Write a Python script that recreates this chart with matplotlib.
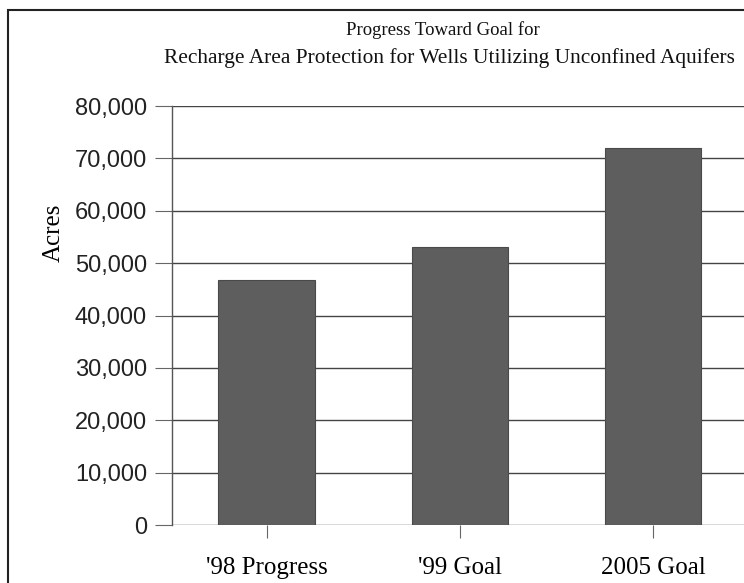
import matplotlib
matplotlib.use("Agg")
import matplotlib.pyplot as plt
from matplotlib.patches import Rectangle
from matplotlib.ticker import FuncFormatter

categories = ["'98 Progress", "'99 Goal", "2005 Goal"]
acres = [46700, 53000, 71900]
yticks = [0, 10000, 20000, 30000, 40000, 50000, 60000, 70000, 80000]
title_lines = ["Progress Toward Goal for",
               "Recharge Area Protection for Wells Utilizing Unconfined Aquifers"]

W, H = 744, 583
fig = plt.figure(figsize=(W / 100, H / 100), dpi=100)
fig.patch.set_facecolor("white")

ax = fig.add_axes([172 / W, 1 - 525 / H, (W - 172) / W, (525 - 106) / H])
ax.set_facecolor("white")

x = list(range(len(categories)))
ax.bar(x, acres, width=0.5, color="#5e5e5e", edgecolor="#4a4a4a", linewidth=0.8, zorder=3)

ax.set_xlim(-0.49, 2.47)
ax.set_ylim(0, 80000)
ax.set_yticks(yticks)
ax.yaxis.set_major_formatter(FuncFormatter(lambda v, p: f"{int(v):,}"))
ax.grid(axis="y", color="#444444", linewidth=1.0, zorder=0)
ax.set_axisbelow(True)

for s in ["top", "right", "bottom"]:
    ax.spines[s].set_visible(False)
ax.spines["left"].set_color("#555555")
ax.spines["left"].set_linewidth(1.0)

ax.set_xticks(x)
ax.set_xticklabels(categories, fontfamily="Liberation Serif", fontsize=18)
ax.tick_params(axis="x", length=9, width=0.8, color="#666666", pad=14)
ax.tick_params(axis="y", length=12, width=0.8, color="#666666", pad=6,
               labelsize=17)
for lbl in ax.get_yticklabels():
    lbl.set_fontfamily("Liberation Sans")
    lbl.set_color("#222222")

ax.set_ylabel("Acres", fontfamily="Liberation Serif", fontsize=18, labelpad=6)
ax.yaxis.set_label_coords(-0.187, 0.697)

fig.text(443 / W, 1 - 30 / H, title_lines[0], ha="center", va="center",
         fontfamily="Liberation Serif", fontsize=13.5, color="#111111")
fig.text(449 / W, 1 - 58 / H, title_lines[1], ha="center", va="center",
         fontfamily="Liberation Serif", fontsize=15.4, color="#111111")

# outer frame
fig.patches.append(Rectangle((8 / W, -0.05), 1.1, (1 - 10 / H) + 0.05,
                             transform=fig.transFigure, fill=False,
                             edgecolor="#222222", linewidth=1.5))

fig.savefig("out.png", dpi=100, facecolor="white")
